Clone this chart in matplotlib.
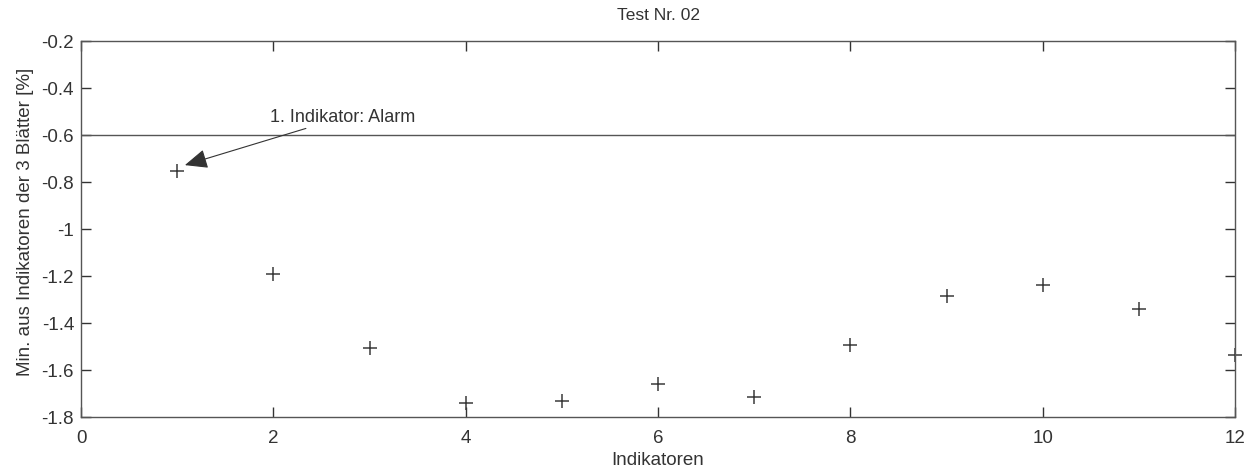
import matplotlib
matplotlib.use("Agg")
import matplotlib.pyplot as plt

plt.rcParams['font.family'] = ['Liberation Sans', 'DejaVu Sans']

indikatoren = [1, 2, 3, 4, 5, 6, 7, 8, 9, 10, 11, 12]
min_werte = [-0.755, -1.19, -1.506, -1.74, -1.73, -1.66, -1.714, -1.494, -1.284, -1.24, -1.34, -1.536]
schwelle = -0.6
xticks = [0, 2, 4, 6, 8, 10, 12]
yticks = [-1.8, -1.6, -1.4, -1.2, -1.0, -0.8, -0.6, -0.4, -0.2]
ytick_labels = ['-1.8', '-1.6', '-1.4', '-1.2', '-1', '-0.8', '-0.6', '-0.4', '-0.2']

fig = plt.figure(figsize=(12.56, 4.72), dpi=100)
ax = fig.add_axes([0.0645, 0.1165, 0.9188, 0.7965])

ax.plot(indikatoren, min_werte, linestyle='none', marker='+', markersize=10,
        markeredgewidth=1.1, color='#3a3a3a', clip_on=False)
ax.axhline(schwelle, color='#555555', linewidth=1.0)

ax.annotate('1. Indikator: Alarm', xy=(1.08, -0.728), xytext=(1.97, -0.56),
            fontsize=13, color='#333333', va='bottom', ha='left',
            arrowprops=dict(arrowstyle='-|>,head_length=0.7,head_width=0.3',
                            color='#333333', lw=0.8,
                            mutation_scale=20, shrinkA=0, shrinkB=0))

ax.set_xlim(0, 12)
ax.set_ylim(-1.8, -0.2)
ax.set_xticks(xticks)
ax.set_xticklabels([str(t) for t in xticks])
ax.set_yticks(yticks)
ax.set_yticklabels(ytick_labels)
ax.tick_params(direction='in', top=True, right=True, length=7, width=1.0,
               labelsize=13.5, colors='#333333', pad=5)
ax.tick_params(axis='x', pad=9)
for s in ax.spines.values():
    s.set_color('#555555')
    s.set_linewidth(1.0)

ax.set_title('Test Nr. 02', fontsize=12.5, color='#333333', pad=15)
ax.set_xlabel('Indikatoren', fontsize=13.5, color='#333333', labelpad=4)
ax.set_ylabel('Min. aus Indikatoren der 3 Blätter [%]', fontsize=13.5, color='#333333')
ax.yaxis.set_label_coords(-0.041, 0.52)

fig.savefig('out.png', dpi=100, facecolor='white')
